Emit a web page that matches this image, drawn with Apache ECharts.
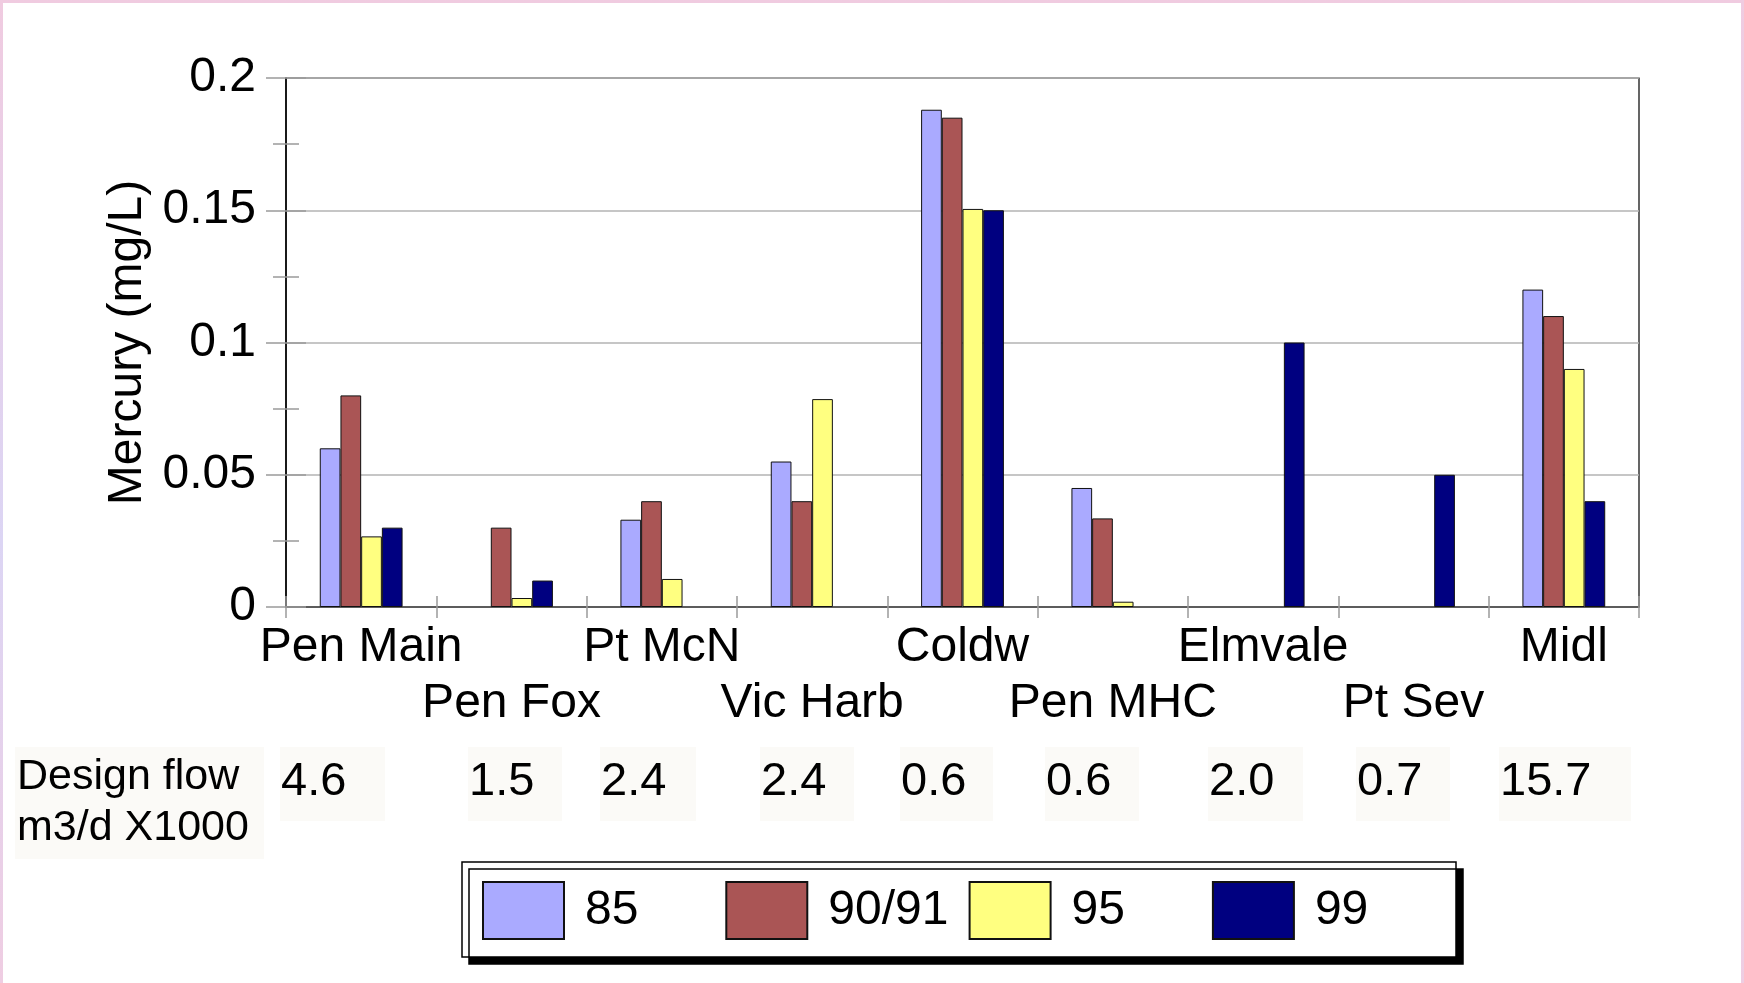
<!DOCTYPE html>
<html>
<head>
<meta charset="utf-8">
<script src="https://cdn.jsdelivr.net/npm/echarts@6/dist/echarts.min.js"></script>
<style>
  html, body { margin: 0; padding: 0; width: 1744px; height: 983px; overflow: hidden; }
  body { background: linear-gradient(to bottom, #f0cbe0 0%, #dcd5f4 55%, #efcde2 100%); position: relative; }
  #sheet { position: absolute; left: 3px; top: 3px; right: 3px; bottom: 0; background: #ffffff; }
  #chart { position: absolute; left: 0; top: 0; width: 1744px; height: 983px; }
</style>
</head>
<body>
<div id="sheet"></div>
<div id="chart"></div>
<script>
// Mercury concentrations (mg/L) at each treatment plant, by sampling year
const categories = ['Pen Main', 'Pen Fox', 'Pt McN', 'Vic Harb', 'Coldw', 'Pen MHC', 'Elmvale', 'Pt Sev', 'Midl'];
const seriesNames = ['85', '90/91', '95', '99'];
const s85   = [0.06,   null,   0.033,  0.055,  0.188,  0.045,  null, null, 0.12];
const s9091 = [0.08,   0.03,   0.04,   0.04,   0.185,  0.0335, null, null, 0.11];
const s95   = [0.0267, 0.0034, 0.0106, 0.0786, 0.1505, 0.002,  null, null, 0.09];
const s99   = [0.03,   0.01,   null,   null,   0.15,   null,   0.1,  0.05, 0.04];
// Design flow per plant, m3/d x1000
const designFlow = ['4.6', '1.5', '2.4', '2.4', '0.6', '0.6', '2.0', '0.7', '15.7'];
const yTicks = { min: 0, max: 0.2, step: 0.05 };

// layout of the design-flow row (left edge of each value box)
const flowLeft = [280, 468, 600, 760, 900, 1045, 1208, 1356, 1499];
const flowBoxWidth = [105, 94, 96, 94, 93, 94, 95, 94, 132];
// legend frame and fixed-width legend columns
const legendBox = { x: 462, y: 862, w: 994, h: 95 };
const legendColumn = 243.3;

const FONT = "'Liberation Sans', Arial, Helvetica, sans-serif";
const colors = ['#aaaaff', '#aa5555', '#ffff80', '#000080'];
const seriesData = [s85, s9091, s95, s99];

const chart = echarts.init(document.getElementById('chart'), null, { renderer: 'canvas' });

const graphics = [];
// framed legend panel with a hard drop shadow
graphics.push({
  type: 'rect', z: 1,
  shape: { x: legendBox.x, y: legendBox.y, width: legendBox.w, height: legendBox.h },
  style: { fill: '#ffffff', stroke: '#000', lineWidth: 1.5,
           shadowColor: '#000', shadowBlur: 0, shadowOffsetX: 7, shadowOffsetY: 7 },
  silent: true
});
graphics.push({
  type: 'rect', shape: { x: 15, y: 747, width: 249, height: 112 },
  style: { fill: '#fbfaf7' }, silent: true
});
graphics.push({
  type: 'text', x: 17, y: 752,
  style: { text: 'Design flow\nm3/d X1000', font: '43px ' + FONT, fill: '#000',
           lineHeight: 51, verticalAlign: 'top', align: 'left' },
  silent: true
});
designFlow.forEach((v, i) => {
  graphics.push({
    type: 'rect', shape: { x: flowLeft[i], y: 747, width: flowBoxWidth[i], height: 74 },
    style: { fill: '#fbfaf7' }, silent: true
  });
  graphics.push({
    type: 'text', x: flowLeft[i] + 1, y: 782,
    style: { text: v, font: '47px ' + FONT, fill: '#000', verticalAlign: 'middle', align: 'left' },
    silent: true
  });
});

// one legend per column so every entry gets the same column width
const legends = seriesNames.map((name, i) => ({
  data: [name],
  left: legendBox.x + 20 + i * legendColumn,
  top: legendBox.y + 19,
  orient: 'horizontal',
  icon: 'rect',
  itemWidth: 81, itemHeight: 57,
  padding: 0,
  z: 5,
  selectedMode: false,
  textStyle: { fontFamily: FONT, fontSize: 48, color: '#000', padding: [0, 0, 0, 16] }
}));

const tickColor = '#9a9a9a';

const option = {
  backgroundColor: 'transparent',
  animation: false,
  textStyle: { fontFamily: FONT, color: '#000' },
  grid: {
    left: 286, top: 78, width: 1353, height: 529,
    show: true, borderColor: '#000', borderWidth: 1.2, backgroundColor: 'transparent',
    containLabel: false, outerBoundsMode: 'none'
  },
  legend: legends,
  xAxis: [
    {
      type: 'category', data: categories, position: 'bottom',
      axisLine: { lineStyle: { color: '#444', width: 1.5 } },
      axisTick: { show: true, length: 11, lineStyle: { color: tickColor, width: 1.5 } },
      axisLabel: {
        interval: 0, fontFamily: FONT, fontSize: 48, color: '#000', margin: 13, lineHeight: 56,
        formatter: (v, i) => (i % 2 ? '\n' + v : v)
      },
      splitLine: { show: false }
    },
    {
      type: 'category', data: categories, position: 'bottom',
      axisLine: { show: false },
      axisTick: { show: true, inside: true, length: 11, lineStyle: { color: tickColor, width: 1.5 } },
      axisLabel: { show: false },
      splitLine: { show: false }
    }
  ],
  yAxis: [
    {
      type: 'value', min: yTicks.min, max: yTicks.max, interval: yTicks.step, position: 'left',
      name: 'Mercury (mg/L)', nameLocation: 'middle', nameGap: 134,
      nameTextStyle: { fontFamily: FONT, fontSize: 48, color: '#000' },
      axisLine: { show: true, lineStyle: { color: '#000', width: 1.5 } },
      axisTick: { show: true, length: 20, lineStyle: { color: tickColor, width: 1.5 } },
      minorTick: { show: true, splitNumber: 2, length: 13, lineStyle: { color: tickColor, width: 1.5 } },
      axisLabel: { fontFamily: FONT, fontSize: 48, color: '#000', margin: 30 },
      splitLine: { show: true, lineStyle: { color: '#b3b3b3', width: 1.5 } }
    },
    {
      type: 'value', min: yTicks.min, max: yTicks.max, interval: yTicks.step, position: 'left',
      axisLine: { show: false },
      axisTick: { show: true, inside: true, length: 20, lineStyle: { color: tickColor, width: 1.5 } },
      minorTick: { show: true, splitNumber: 2, length: 13, lineStyle: { color: tickColor, width: 1.5 } },
      axisLabel: { show: false },
      splitLine: { show: false }
    }
  ],
  series: seriesNames.map((name, k) => ({
    name: name,
    type: 'bar',
    xAxisIndex: 0, yAxisIndex: 0,
    data: seriesData[k],
    barWidth: 20.7,
    barGap: '0%',
    itemStyle: { color: colors[k], borderColor: '#111', borderWidth: 1 }
  })),
  graphic: graphics
};

chart.setOption(option);
</script>
</body>
</html>
